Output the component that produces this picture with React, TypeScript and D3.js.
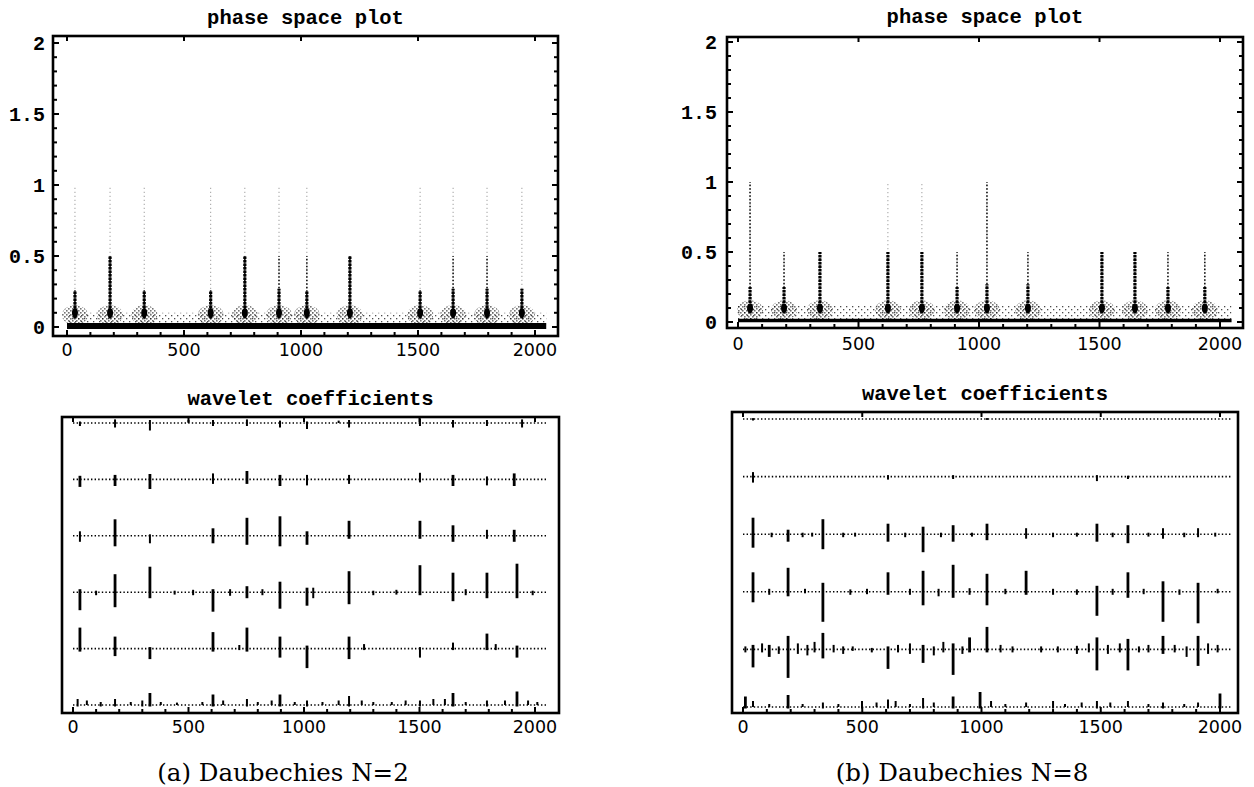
import React from 'react';
import * as d3 from 'd3';

// ---------- data ----------
const xTickValues = [0, 500, 1000, 1500, 2000];
const yTickValues = [0, 0.5, 1, 1.5, 2];
const yTickLabels = ['0', '0.5', '1', '1.5', '2'];
const signalEnd = 2048;

// phase space (a) : spike positions and heights of the tiles
const phaseAPos = [34, 184, 330, 614, 760, 906, 1025, 1209, 1509, 1650, 1795, 1944];
const phaseADark = [0.25, 0.5, 0.25, 0.25, 0.5, 0.27, 0.25, 0.5, 0.25, 0.27, 0.27, 0.27];
const phaseAMid = [0.27, 0.5, 0.27, 0.27, 0.5, 0.5, 0.5, 0.5, 0.27, 0.5, 0.5, 0.27];
const phaseAFaint = [1, 1, 1, 1, 1, 1, 1, 0.5, 1, 1, 1, 1];
const phaseABand = [0.02, 0.1];
const phaseABase = 0.007;

// phase space (b)
const phaseBPos = [50, 191, 340, 622, 763, 909, 1033, 1203, 1510, 1647, 1784, 1937];
const phaseBDark = [0.25, 0.25, 0.5, 0.5, 0.5, 0.25, 0.27, 0.27, 0.5, 0.5, 0.25, 0.25];
const phaseBMid = [1, 0.5, 0.5, 0.5, 0.5, 0.5, 1, 0.5, 0.5, 0.5, 0.5, 0.5];
const phaseBFaint = [1, 0.5, 0.5, 1, 1, 0.5, 1, 0.5, 0.5, 0.5, 0.5, 0.5];
const phaseBBand = [0.02, 0.12];
const phaseBBase = 0.01;

type Stem = [number, number, number]; // position, positive extent, negative extent

// wavelet coefficients (a), rows top -> bottom
const coefA1: Stem[] = [[30, 0.05, 0.1], [182, 0.12, 0.15], [333, 0.1, 0.25], [500, 0.1, 0], [606, 0.1, 0.1], [753, 0.12, 0.1], [896, 0.08, 0.15], [1013, 0.05, 0.2], [1150, 0.08, 0], [1195, 0.1, 0.15], [1502, 0.15, 0.1], [1645, 0.1, 0.15], [1792, 0.1, 0.1], [1944, 0.12, 0.15]];
const coefA2: Stem[] = [[30, 0.12, 0.25], [182, 0.15, 0.22], [333, 0.18, 0.32], [606, 0.2, 0.15], [753, 0.28, 0.15], [896, 0.15, 0.22], [1013, 0.15, 0.2], [1195, 0.15, 0.15], [1502, 0.22, 0.1], [1645, 0.15, 0.22], [1792, 0.1, 0.2], [1910, 0.2, 0.22]];
const coefA3: Stem[] = [[30, 0.15, 0.2], [182, 0.55, 0.35], [333, 0.05, 0.25], [606, 0.25, 0.25], [753, 0.6, 0.3], [896, 0.65, 0.35], [1013, 0.15, 0.3], [1195, 0.5, 0.1], [1502, 0.5, 0.1], [1645, 0.35, 0.2], [1792, 0.2, 0.1], [1910, 0.2, 0.2]];
const coefA4: Stem[] = [[30, 0.1, 0.6], [100, 0.05, 0.1], [182, 0.6, 0.5], [333, 0.85, 0.2], [440, 0.05, 0.08], [520, 0.08, 0.1], [606, 0.1, 0.65], [680, 0.1, 0.12], [753, 0.2, 0.2], [820, 0.1, 0.1], [896, 0.35, 0.55], [1013, 0.15, 0.45], [1040, 0.15, 0.2], [1195, 0.7, 0.4], [1300, 0.05, 0.1], [1400, 0.08, 0.08], [1502, 0.9, 0.1], [1645, 0.65, 0.3], [1700, 0.1, 0.1], [1792, 0.65, 0.2], [1922, 0.95, 0.2], [1990, 0.05, 0.1]];
const coefA5: Stem[] = [[30, 0.7, 0.1], [182, 0.4, 0.25], [333, 0.05, 0.35], [606, 0.55, 0.1], [720, 0.12, 0.05], [753, 0.7, 0.1], [896, 0.4, 0.3], [1013, 0.1, 0.65], [1195, 0.4, 0.35], [1260, 0.15, 0.05], [1502, 0.05, 0.3], [1645, 0.2, 0.05], [1792, 0.5, 0.05], [1830, 0.15, 0.05], [1922, 0.1, 0.3]];
const coefA6: Stem[] = [[20, 0.2, 0.05], [60, 0.15, 0], [120, 0.1, 0.05], [182, 0.2, 0.05], [250, 0.1, 0], [300, 0.15, 0.05], [333, 0.4, 0.05], [380, 0.1, 0], [450, 0.08, 0], [560, 0.1, 0], [606, 0.35, 0.05], [650, 0.15, 0], [753, 0.2, 0.05], [800, 0.1, 0], [860, 0.15, 0], [896, 0.35, 0.05], [960, 0.1, 0], [1013, 0.15, 0.05], [1080, 0.1, 0], [1150, 0.15, 0], [1195, 0.3, 0.05], [1250, 0.15, 0], [1300, 0.1, 0], [1380, 0.1, 0], [1440, 0.15, 0], [1502, 0.15, 0.05], [1560, 0.2, 0], [1610, 0.2, 0], [1645, 0.4, 0.05], [1700, 0.1, 0], [1792, 0.15, 0.05], [1870, 0.15, 0], [1922, 0.45, 0.05], [1970, 0.15, 0], [2010, 0.1, 0]];

// wavelet coefficients (b)
const coefB1: Stem[] = [[42, 0.03, 0.05], [1023, 0.03, 0.03]];
const coefB2: Stem[] = [[42, 0.15, 0.2], [608, 0.05, 0.1], [881, 0.05, 0.08], [1484, 0.05, 0.15], [1614, 0.03, 0.08]];
const coefB3: Stem[] = [[42, 0.55, 0.45], [120, 0.05, 0.1], [189, 0.15, 0.25], [250, 0.05, 0.1], [290, 0.05, 0.08], [335, 0.5, 0.5], [420, 0.05, 0.1], [470, 0.05, 0.08], [608, 0.35, 0.25], [680, 0.05, 0.1], [755, 0.25, 0.6], [830, 0.05, 0.1], [881, 0.3, 0.25], [960, 0.05, 0.08], [1023, 0.35, 0.2], [1187, 0.2, 0.15], [1300, 0.05, 0.1], [1400, 0.05, 0.08], [1484, 0.35, 0.25], [1550, 0.05, 0.1], [1614, 0.3, 0.3], [1700, 0.05, 0.08], [1761, 0.2, 0.15], [1850, 0.05, 0.1], [1908, 0.2, 0.1], [1980, 0.05, 0.08]];
const coefB4: Stem[] = [[42, 0.65, 0.35], [110, 0.1, 0.1], [189, 0.8, 0.15], [260, 0.1, 0.05], [335, 0.3, 1.0], [450, 0.08, 0.1], [520, 0.1, 0.08], [608, 0.65, 0.1], [700, 0.1, 0.1], [755, 0.7, 0.45], [820, 0.1, 0.15], [881, 0.9, 0.2], [950, 0.12, 0.1], [1023, 0.6, 0.45], [1100, 0.1, 0.08], [1187, 0.7, 0.1], [1300, 0.1, 0.1], [1400, 0.08, 0.1], [1484, 0.2, 0.8], [1550, 0.1, 0.1], [1614, 0.65, 0.2], [1680, 0.1, 0.08], [1761, 0.35, 1.0], [1830, 0.08, 0.1], [1908, 0.3, 1.05], [1990, 0.1, 0.05]];
const coefB5: Stem[] = [[10, 0.1, 0.1], [42, 0.15, 0.6], [80, 0.2, 0.1], [110, 0.15, 0.25], [150, 0.1, 0.15], [189, 0.45, 0.95], [230, 0.2, 0.15], [270, 0.15, 0.2], [300, 0.25, 0.1], [335, 0.55, 0.3], [380, 0.15, 0.1], [420, 0.1, 0.15], [460, 0.1, 0.05], [540, 0.05, 0.1], [608, 0.1, 0.65], [650, 0.15, 0.1], [700, 0.2, 0.15], [755, 0.15, 0.45], [800, 0.1, 0.2], [840, 0.25, 0.1], [881, 0.2, 0.85], [920, 0.1, 0.15], [950, 0.4, 0.1], [1023, 0.75, 0.1], [1080, 0.15, 0.1], [1130, 0.1, 0.1], [1250, 0.1, 0.1], [1320, 0.1, 0.1], [1400, 0.12, 0.15], [1450, 0.2, 0.1], [1484, 0.4, 0.7], [1530, 0.15, 0.15], [1580, 0.2, 0.1], [1614, 0.35, 0.7], [1660, 0.1, 0.1], [1700, 0.15, 0.1], [1761, 0.45, 0.15], [1810, 0.15, 0.1], [1860, 0.1, 0.25], [1908, 0.45, 0.55], [1950, 0.2, 0.15], [1990, 0.15, 0.1]];
const coefB6: Stem[] = [[10, 0.35, 0.05], [42, 0.2, 0], [110, 0.1, 0], [189, 0.4, 0.05], [250, 0.1, 0], [335, 0.15, 0.05], [400, 0.1, 0], [499, 0.2, 0.05], [560, 0.15, 0], [608, 0.25, 0.05], [640, 0.2, 0], [700, 0.1, 0], [755, 0.3, 0.05], [800, 0.15, 0], [881, 0.35, 0.05], [994, 0.5, 0.05], [1040, 0.2, 0], [1100, 0.1, 0], [1187, 0.15, 0], [1300, 0.2, 0.05], [1350, 0.1, 0], [1420, 0.15, 0], [1484, 0.2, 0.05], [1540, 0.15, 0], [1614, 0.2, 0], [1700, 0.1, 0], [1761, 0.15, 0.05], [1850, 0.1, 0], [1908, 0.15, 0], [2000, 0.45, 0.05]];

const coefARows = [coefA1, coefA2, coefA3, coefA4, coefA5, coefA6];
const coefBRows = [coefB1, coefB2, coefB3, coefB4, coefB5, coefB6];

const titleTop = 'phase space plot';
const titleBottom = 'wavelet coefficients';
const captionA = '(a) Daubechies N=2';
const captionB = '(b) Daubechies N=8';

// ---------- layout ----------
type Frame = { left: number; right: number; top: number; bottom: number };

const monoFont = "'Liberation Mono', 'DejaVu Sans Mono', monospace";
const sansFont = "'DejaVu Sans', Verdana, sans-serif";
const serifFont = "'DejaVu Serif', serif";

function FrameBox({ f, x, yMinor, top }: { f: Frame; x: d3.ScaleLinear<number, number>; yMinor?: d3.ScaleLinear<number, number>; top: boolean }) {
  const minorX = d3.range(0, 2001, 100);
  const minorY = d3.range(0, 2.001, 0.1);
  return (
    <g>
      <rect x={f.left} y={f.top} width={f.right - f.left} height={f.bottom - f.top} fill="none" stroke="#000" strokeWidth={2.6} />
      {minorX.map((v) => (
        <line key={'b' + v} x1={x(v)} x2={x(v)} y1={f.bottom} y2={f.bottom - (v % 500 === 0 ? 6 : 4)} stroke="#000" strokeWidth={2} />
      ))}
      {xTickValues.map((v) => (
        <line key={'t' + v} x1={x(v)} x2={x(v)} y1={f.top} y2={f.top + 5} stroke="#000" strokeWidth={2} />
      ))}
      {top && yMinor &&
        minorY.map((v, i) => (
          <g key={'y' + i}>
            <line x1={f.left} x2={f.left + (i % 5 === 0 ? 6 : 4)} y1={yMinor(v)} y2={yMinor(v)} stroke="#000" strokeWidth={2} />
            <line x1={f.right} x2={f.right - (i % 5 === 0 ? 6 : 4)} y1={yMinor(v)} y2={yMinor(v)} stroke="#000" strokeWidth={2} />
          </g>
        ))}
    </g>
  );
}

function PhasePanel(props: {
  f: Frame; xr: [number, number]; yr: [number, number]; pos: number[]; dark: number[]; mid: number[]; faint: number[];
  band: number[]; base: number; baseWidth: number; title: string; titleY: number; labelY: number; labelRight: number; id: string;
}) {
  const { f, pos, dark, mid, faint, band, base } = props;
  const x = d3.scaleLinear().domain([0, 2000]).range(props.xr);
  const y = d3.scaleLinear().domain([0, 2]).range(props.yr);
  const cx = (f.left + f.right) / 2;
  return (
    <g>
      <defs>
        <pattern id={props.id + 'stip'} width={6} height={6} patternUnits="userSpaceOnUse">
          <rect x={0} y={0} width={1.3} height={1.3} fill="#000" />
          <rect x={3} y={3} width={1.3} height={1.3} fill="#000" />
        </pattern>
        <pattern id={props.id + 'dense'} width={4} height={4} patternUnits="userSpaceOnUse">
          <rect x={0} y={0} width={1.6} height={1.6} fill="#000" />
          <rect x={2} y={2} width={1.6} height={1.6} fill="#000" />
        </pattern>
      </defs>
      <text x={cx} y={props.titleY} textAnchor="middle" fontFamily={monoFont} fontWeight="bold" fontSize={20.5}>{props.title}</text>
      <rect x={x(0)} y={y(band[1])} width={x(signalEnd) - x(0)} height={y(band[0]) - y(band[1])} fill={`url(#${props.id}stip)`} opacity={0.7} />
      {pos.map((p, i) => (
        <g key={i}>
          <ellipse cx={x(p)} cy={y(0.085)} rx={13} ry={(y(0.02) - y(0.16)) / 2} fill={`url(#${props.id}dense)`} opacity={0.55} />
          <line x1={x(p)} x2={x(p)} y1={y(band[1])} y2={y(faint[i])} stroke="#888" strokeWidth={1} strokeDasharray="1,3" />
          <line x1={x(p)} x2={x(p)} y1={y(band[1])} y2={y(mid[i])} stroke="#111" strokeWidth={1.6} strokeDasharray="1.5,2" />
          <line x1={x(p)} x2={x(p)} y1={y(0.06)} y2={y(dark[i])} stroke="#000" strokeWidth={3.2} strokeDasharray="2.5,1" />
          <ellipse cx={x(p)} cy={y(0.1)} rx={3} ry={4.5} fill="#000" />
        </g>
      ))}
      <line x1={x(0)} x2={x(signalEnd)} y1={y(base)} y2={y(base)} stroke="#000" strokeWidth={props.baseWidth} />
      <FrameBox f={f} x={x} yMinor={y} top={true} />
      {yTickValues.map((v, i) => (
        <text key={v} x={props.labelRight} y={y(v) + 7} textAnchor="end" fontFamily={monoFont} fontWeight="bold" fontSize={20}>{yTickLabels[i]}</text>
      ))}
      {xTickValues.map((v) => (
        <text key={v} x={x(v)} y={props.labelY} textAnchor="middle" fontFamily={sansFont} fontSize={17.5}>{v}</text>
      ))}
    </g>
  );
}

function CoefPanel(props: {
  f: Frame; xr: [number, number]; rowr: [number, number]; rows: Stem[][]; title: string; titleY: number; labelY: number;
}) {
  const { f, rows } = props;
  const x = d3.scaleLinear().domain([0, 2000]).range(props.xr);
  const yRow = d3.scaleLinear().domain([1, 6]).range(props.rowr);
  const amp = d3.scaleLinear().domain([0, 1]).range([0, 30]);
  const cx = (f.left + f.right) / 2;
  return (
    <g>
      <text x={cx} y={props.titleY} textAnchor="middle" fontFamily={monoFont} fontWeight="bold" fontSize={20.5}>{props.title}</text>
      {rows.map((row, r) => {
        const yc = yRow(r + 1);
        return (
          <g key={r}>
            <line x1={x(0)} x2={x(signalEnd)} y1={yc} y2={yc} stroke="#000" strokeWidth={1.6} strokeDasharray="1.4,2.2" />
            {row.map((s, k) => {
              const big = s[1] + s[2] > 0.35;
              return (
                <line key={k} x1={x(s[0])} x2={x(s[0])} y1={yc - amp(s[1])} y2={yc + amp(s[2])} stroke="#000" strokeWidth={big ? 2.8 : 2} />
              );
            })}
          </g>
        );
      })}
      <FrameBox f={f} x={x} top={false} />
      {xTickValues.map((v) => (
        <text key={v} x={x(v)} y={props.labelY} textAnchor="middle" fontFamily={sansFont} fontSize={17.5}>{v}</text>
      ))}
    </g>
  );
}

export default function App() {
  return (
    <svg width={1254} height={787} viewBox="0 0 1254 787" style={{ position: 'absolute', left: 0, top: 0, background: '#fff' }}>
      <rect width={1254} height={787} fill="#fff" />
      <PhasePanel id="pa" f={{ left: 53, right: 558, top: 36, bottom: 336 }} xr={[67, 535]} yr={[327, 43]}
        pos={phaseAPos} dark={phaseADark} mid={phaseAMid} faint={phaseAFaint} band={phaseABand} base={phaseABase} baseWidth={6}
        title={titleTop} titleY={24} labelY={356} labelRight={45} />
      <PhasePanel id="pb" f={{ left: 727, right: 1243, top: 37, bottom: 328 }} xr={[738, 1220]} yr={[322, 42]}
        pos={phaseBPos} dark={phaseBDark} mid={phaseBMid} faint={phaseBFaint} band={phaseBBand} base={phaseBBase} baseWidth={3.5}
        title={titleTop} titleY={23} labelY={350} labelRight={717} />
      <CoefPanel f={{ left: 62, right: 559, top: 417, bottom: 713 }} xr={[73, 535]} rowr={[423, 705]} rows={coefARows}
        title={titleBottom} titleY={405} labelY={733} />
      <CoefPanel f={{ left: 732, right: 1238, top: 412, bottom: 713 }} xr={[743, 1220]} rowr={[419, 707]} rows={coefBRows}
        title={titleBottom} titleY={400} labelY={733} />
      <text x={283} y={781} textAnchor="middle" fontFamily={serifFont} fontSize={24.5}>{captionA}</text>
      <text x={962} y={781} textAnchor="middle" fontFamily={serifFont} fontSize={24.5}>{captionB}</text>
    </svg>
  );
}
